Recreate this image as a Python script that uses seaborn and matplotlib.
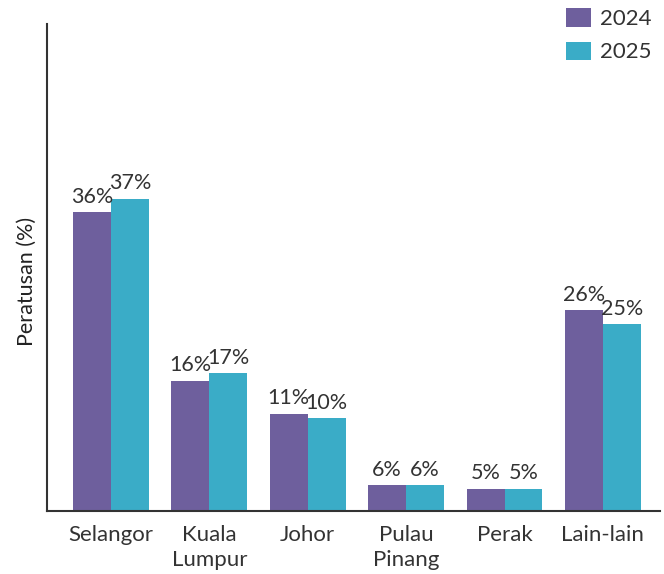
import pandas as pd
import matplotlib.pyplot as plt
import seaborn as sns

# Data (bar heights as drawn, labels as printed)
negeri = ['Selangor', 'Kuala\nLumpur', 'Johor', 'Pulau\nPinang', 'Perak', 'Lain-lain']
tahun = ['2024', '2025']
tinggi_2024 = [36.0, 15.7, 11.7, 3.1, 2.7, 24.2]
tinggi_2025 = [37.6, 16.6, 11.2, 3.1, 2.7, 22.5]
label_2024 = ['36%', '16%', '11%', '6%', '5%', '26%']
label_2025 = ['37%', '17%', '10%', '6%', '5%', '25%']
warna = ['#6e5f9d', '#3aacc7']

df = pd.DataFrame({
    'negeri': negeri * 2,
    'tahun': [tahun[0]] * len(negeri) + [tahun[1]] * len(negeri),
    'nilai': tinggi_2024 + tinggi_2025,
})

sns.set_style('white')
plt.rcParams['font.family'] = ['Lato', 'DejaVu Sans']
plt.rcParams['text.color'] = '#333333'

fig = plt.figure(figsize=(6.64, 5.74), dpi=100)
ax = fig.add_axes([47 / 664, 1 - 511 / 574, 613 / 664, 487 / 574])

sns.barplot(data=df, x='negeri', y='nilai', hue='tahun', hue_order=tahun,
            palette=warna, width=0.77, saturation=1, linewidth=0, ax=ax, legend=True)

for cont, lbl in zip(ax.containers, [label_2024, label_2025]):
    ax.bar_label(cont, labels=lbl, padding=4, fontsize=15.5, color='#333333')

ax.set_xlim(-0.65, 5.58)
ax.set_ylim(0, 58.7)
ax.set_yticks([])
ax.set_xlabel('')
ax.set_ylabel('Peratusan (%)', fontsize=15.5, color='#222222')
ax.yaxis.set_label_coords(-0.016, 0.472)
ax.tick_params(axis='x', length=0, pad=10, labelsize=16, labelcolor='#333333')
for t in ax.get_xticklabels():
    t.set_linespacing(1.3)

for s in ['top', 'right']:
    ax.spines[s].set_visible(False)
for s in ['left', 'bottom']:
    ax.spines[s].set_color('#333333')
    ax.spines[s].set_linewidth(1.5)

ax.legend(loc='upper left', bbox_to_anchor=(562 / 664, 1 - 4 / 574),
          bbox_transform=fig.transFigure, frameon=False, fontsize=16,
          borderaxespad=0, borderpad=0.2,
          handlelength=1.1, handleheight=0.9, handletextpad=0.4,
          labelspacing=0.55, title=None)

plt.savefig('out.png', dpi=100)
plt.close()
